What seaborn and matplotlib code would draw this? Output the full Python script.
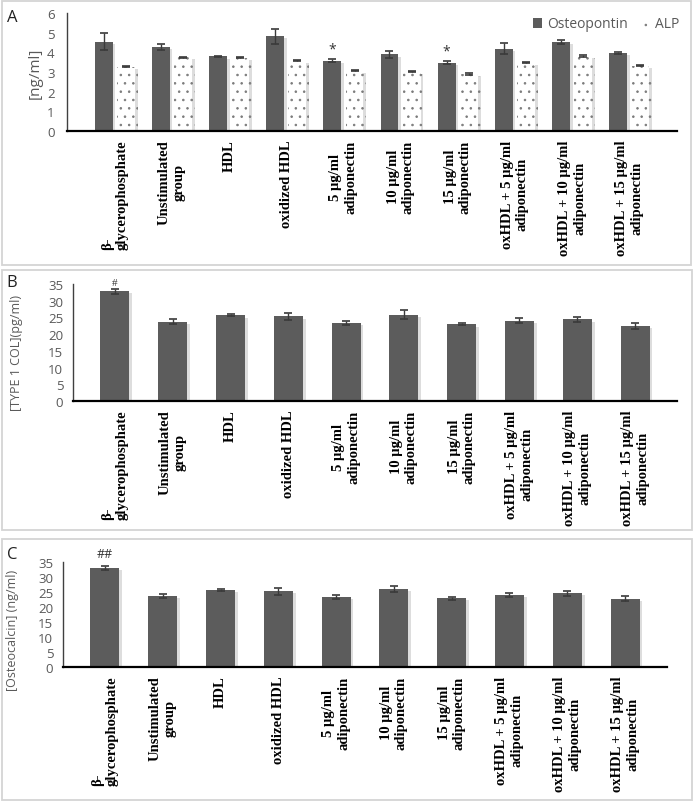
import numpy as np
import pandas as pd
import matplotlib
matplotlib.use('Agg')
import matplotlib.pyplot as plt
import matplotlib.patheffects as pe
from matplotlib.patches import Rectangle, Patch
import seaborn as sns

# group labels (x axis, shared by the three panels)
groups = ['β-\nglycerophosphate', 'Unstimulated\ngroup', 'HDL', 'oxidized HDL',
          '5 µg/ml\nadiponectin', '10 µg/ml\nadiponectin', '15 µg/ml\nadiponectin',
          'oxHDL + 5 µg/ml\nadiponectin', 'oxHDL + 10 µg/ml\nadiponectin',
          'oxHDL + 15 µg/ml\nadiponectin']

# panel A: osteopontin and ALP [ng/ml]
osteopontin = [4.55, 4.28, 3.79, 4.82, 3.58, 3.89, 3.48, 4.19, 4.52, 3.97]
osteopontin_err = [0.45, 0.15, 0.03, 0.38, 0.08, 0.20, 0.08, 0.27, 0.10, 0.03]
alp = [3.27, 3.75, 3.72, 3.57, 3.07, 3.02, 2.91, 3.48, 3.80, 3.32]
alp_err = [0.03, 0.03, 0.02, 0.02, 0.04, 0.02, 0.04, 0.04, 0.04, 0.02]

# panel B: type 1 collagen (pg/ml)
col1 = [32.8, 23.7, 25.6, 25.3, 23.3, 25.8, 22.9, 24.0, 24.4, 22.5]
col1_err = [0.8, 0.7, 0.3, 1.1, 0.6, 1.3, 0.3, 0.7, 0.8, 0.9]

# panel C: osteocalcin (ng/ml)
osteocalcin = [33.0, 23.6, 25.6, 25.2, 23.3, 26.0, 22.9, 24.0, 24.6, 22.8]
osteocalcin_err = [0.7, 0.6, 0.3, 1.2, 0.6, 1.1, 0.6, 0.7, 0.8, 0.8]

W, H = 695, 803
DARK = '#5c5c5c'
TXT = '#595959'
sans = ['Open Sans', 'DejaVu Sans']
serif = ['Liberation Serif', 'DejaVu Serif']

sns.set_theme(style='white')
plt.rcParams['font.family'] = sans
plt.rcParams['hatch.linewidth'] = 0.6

fig = plt.figure(figsize=(W / 100, H / 100), dpi=100)


def px_axes(left, right, top, bottom):
    return fig.add_axes([left / W, 1 - bottom / H, (right - left) / W, (bottom - top) / H])


def frame(x0, y0, x1, y1):
    fig.add_artist(Rectangle((x0 / W, 1 - y1 / H), (x1 - x0) / W, (y1 - y0) / H,
                             transform=fig.transFigure, fill=False,
                             edgecolor='#d4d4d4', lw=1.3))


shadow = [pe.SimplePatchShadow(offset=(2, -1.5), shadow_rgbFace='#a0a0a0', alpha=0.35), pe.Normal()]


def style_axes(ax, ymax, step, ylabel, lab_x, lab_y, lab_size, pad):
    ax.set_ylim(0, ymax)
    ax.set_yticks(np.arange(0, ymax + 0.01, step))
    ax.set_yticklabels([f'{v:g}' for v in np.arange(0, ymax + 0.01, step)],
                       fontsize=9.5, color=TXT, family=sans)
    ax.tick_params(axis='y', length=0, pad=pad)
    ax.tick_params(axis='x', length=0, pad=6)
    sns.despine(ax=ax)
    ax.spines['left'].set_color('#404040')
    ax.spines['left'].set_linewidth(1.0)
    ax.spines['bottom'].set_color('black')
    ax.spines['bottom'].set_linewidth(1.6)
    ax.set_xlabel('')
    ax.set_ylabel(ylabel, fontsize=lab_size, color=TXT)
    ax.yaxis.set_label_coords(lab_x, lab_y)
    ax.set_xticks(range(len(groups)))
    ax.set_xticklabels(groups, rotation=90, ha='center', va='top', multialignment='center',
                       family=serif, fontweight='bold', fontsize=10.5, color='black')
    ax.get_xticklabels()[0].set_multialignment('left')


def add_errors(ax, container, err):
    xs = [p.get_x() + p.get_width() / 2 for p in container.patches]
    ys = [p.get_height() for p in container.patches]
    ax.errorbar(xs, ys, yerr=err, fmt='none', ecolor='#3a3a3a', elinewidth=1.0,
                capsize=3, capthick=1.2, zorder=5)
    return xs, ys


# ---------------- panel A ----------------
frame(2, 2, 691, 266)
axA = px_axes(67, 677, 14, 132)
dfA = pd.DataFrame({'group': groups * 2,
                    'marker': ['Osteopontin'] * 10 + ['ALP'] * 10,
                    'value': osteopontin + alp})
sns.barplot(data=dfA, x='group', y='value', hue='marker',
            palette={'Osteopontin': DARK, 'ALP': 'white'}, saturation=1,
            width=0.78, gap=0.2, errorbar=None, legend=False, ax=axA)
for p in axA.containers[0].patches:
    p.set_linewidth(0)
    p.set_path_effects(shadow)
for p in axA.containers[1].patches:
    p.set_hatch('..')
    p.set_edgecolor('#7a7a7a')
    p.set_linewidth(0)
    p.set_path_effects(shadow)
xo, yo = add_errors(axA, axA.containers[0], osteopontin_err)
add_errors(axA, axA.containers[1], alp_err)
style_axes(axA, 6, 1, '[ng/ml]', -0.04, 0.5, 11, 9)
for i in (4, 6):
    axA.text(xo[i], yo[i] + osteopontin_err[i] + 0.12, '*', ha='center', va='bottom',
             fontsize=10, color='#333333')
handles = [Patch(facecolor=DARK, edgecolor='none', label='Osteopontin'),
           Patch(facecolor='white', edgecolor='#7a7a7a', hatch='..', lw=0, label='ALP')]
fig.legend(handles=handles, loc='center right', bbox_to_anchor=(692 / W, 1 - 25 / H),
           ncol=2, frameon=False, fontsize=10, handlelength=0.7, handleheight=0.7,
           handletextpad=0.35, columnspacing=0.9, labelcolor=TXT)
fig.text(12 / W, 1 - 18 / H, 'A', fontsize=12, ha='center', va='center', color='#222222')

# ---------------- panel B ----------------
frame(2, 271, 692, 531)
axB = px_axes(73, 677, 285, 402)
dfB = pd.DataFrame({'group': groups, 'value': col1})
sns.barplot(data=dfB, x='group', y='value', color=DARK, saturation=1, width=0.5,
            errorbar=None, ax=axB)
for p in axB.containers[0].patches:
    p.set_linewidth(0)
    p.set_path_effects(shadow)
xb, yb = add_errors(axB, axB.containers[0], col1_err)
style_axes(axB, 35, 5, '[TYPE 1 COL](pg/ml)', -0.083, 0.42, 9, 7)
axB.text(xb[0], yb[0] + col1_err[0] + 0.6, '#', ha='center', va='bottom',
         fontsize=8, family=serif, color='#333333')
fig.text(12 / W, 1 - 283 / H, 'B', fontsize=12, ha='center', va='center', color='#222222')

# ---------------- panel C ----------------
frame(2, 540, 692, 801)
axC = px_axes(63, 667, 563, 668)
dfC = pd.DataFrame({'group': groups, 'value': osteocalcin})
sns.barplot(data=dfC, x='group', y='value', color=DARK, saturation=1, width=0.5,
            errorbar=None, ax=axC)
for p in axC.containers[0].patches:
    p.set_linewidth(0)
    p.set_path_effects(shadow)
xc, yc = add_errors(axC, axC.containers[0], osteocalcin_err)
style_axes(axC, 35, 5, '[Osteocalcin] (ng/ml)', -0.073, 0.36, 9, 7)
axC.text(xc[0], yc[0] + osteocalcin_err[0] + 2.0, '##', ha='center', va='bottom',
         fontsize=9, color='#333333')
fig.text(12 / W, 1 - 555 / H, 'C', fontsize=12, ha='center', va='center', color='#222222')

fig.savefig('out.png', dpi=100)
